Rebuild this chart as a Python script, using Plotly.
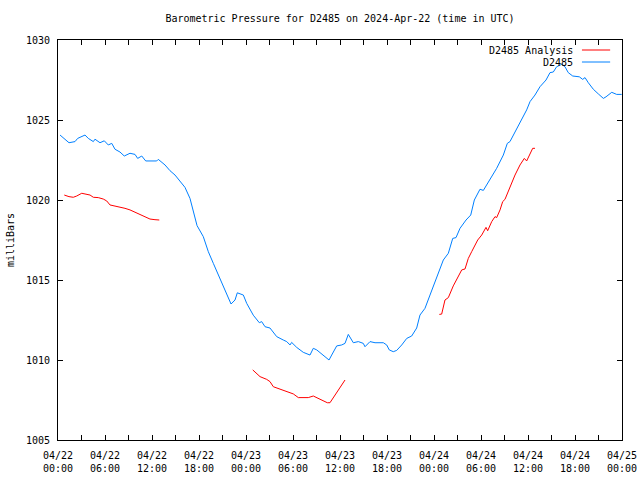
import pandas as pd
import plotly.graph_objects as go

BASE = pd.Timestamp("2024-04-22 00:00")

# hours since 2024-04-22 00:00 UTC, pressure in mb
blue_h = [0.26, 0.89, 1.40, 2.17, 2.51, 3.45, 3.87, 4.51, 4.72, 5.36, 5.91, 6.42, 6.86, 7.28, 7.91,
          8.46, 9.19, 9.83, 10.17, 10.69, 11.20, 12.60, 12.80, 13.66, 14.30, 14.94, 15.57, 16.21,
          16.85, 17.28, 17.75, 18.55, 18.77, 19.19, 19.83, 20.68, 21.32, 22.09, 22.60, 22.89, 23.66,
          24.09, 24.93, 25.70, 26.00, 26.43, 27.06, 27.92, 28.76, 29.20, 29.62, 29.83, 30.47, 31.31,
          32.17, 32.59, 33.03, 33.45, 34.09, 34.60, 34.94, 35.58, 36.22, 36.64, 37.06, 37.70, 38.34,
          38.97, 39.19, 39.83, 40.47, 41.53, 41.96, 42.29, 42.80, 43.24, 43.88, 44.52, 45.15, 45.79,
          46.21, 46.85, 47.49, 48.34, 49.19, 49.83, 50.39, 50.81, 51.32, 52.09, 52.69, 53.15, 53.87,
          54.30, 55.15, 56.00, 56.85, 57.36, 57.70, 58.56, 59.20, 59.83, 60.26, 60.89, 61.53, 62.30,
          62.81, 63.23, 63.66, 64.30, 64.72, 65.14, 65.71, 66.55, 66.98, 67.28, 67.70, 68.34, 68.98,
          69.62, 69.96, 70.69, 71.32, 71.96]
blue_p = [1024.06, 1023.80, 1023.58, 1023.65, 1023.85, 1024.06, 1023.85, 1023.65, 1023.80, 1023.58,
          1023.70, 1023.44, 1023.54, 1023.17, 1023.00, 1022.75, 1022.92, 1022.85, 1022.60, 1022.75,
          1022.44, 1022.44, 1022.54, 1022.19, 1021.83, 1021.56, 1021.20, 1020.79, 1020.10, 1019.20,
          1018.40, 1017.71, 1017.40, 1016.77, 1016.04, 1015.10, 1014.38, 1013.50, 1013.75, 1014.20,
          1014.06, 1013.54, 1012.80, 1012.33, 1012.40, 1012.08, 1012.00, 1011.46, 1011.25, 1011.15,
          1010.94, 1011.10, 1010.79, 1010.48, 1010.31, 1010.73, 1010.63, 1010.46, 1010.17, 1010.00,
          1010.31, 1010.88, 1010.94, 1011.04, 1011.60, 1011.08, 1011.15, 1011.04, 1010.83, 1011.15,
          1011.08, 1011.08, 1010.94, 1010.63, 1010.52, 1010.60, 1010.94, 1011.35, 1011.50, 1012.00,
          1012.81, 1013.23, 1014.06, 1015.10, 1016.25, 1016.67, 1017.60, 1017.65, 1018.23, 1018.75,
          1019.06, 1020.00, 1020.67, 1020.60, 1021.25, 1021.98, 1022.81, 1023.54, 1023.65, 1024.48,
          1025.10, 1025.63, 1026.15, 1026.56, 1027.08, 1027.50, 1027.96, 1028.00, 1028.33, 1028.48,
          1028.33, 1027.96, 1027.75, 1027.70, 1027.54, 1027.65, 1027.33, 1026.92, 1026.63, 1026.35,
          1026.45, 1026.73, 1026.60, 1026.60]

red1_h = [0.80, 1.40, 1.95, 2.39, 3.03, 3.66, 4.09, 4.51, 5.14, 5.78, 6.22, 6.64, 7.28, 7.91, 8.55,
          9.19, 9.83, 10.47, 11.11, 11.74, 12.38, 12.93]
red1_p = [1020.31, 1020.21, 1020.17, 1020.25, 1020.42, 1020.35, 1020.31, 1020.17, 1020.15, 1020.06,
          1019.94, 1019.69, 1019.63, 1019.54, 1019.48, 1019.38, 1019.23, 1019.06, 1018.92, 1018.81,
          1018.77, 1018.75]
red2_h = [24.86, 25.37, 25.79, 26.64, 27.06, 27.49, 28.12, 28.76, 29.62, 30.04, 30.68, 31.95, 32.59,
          33.23, 33.87, 34.38, 34.72, 34.94, 35.58, 36.22, 36.64]
red2_p = [1009.38, 1009.17, 1008.96, 1008.79, 1008.65, 1008.33, 1008.23, 1008.08, 1007.96, 1007.88,
          1007.65, 1007.65, 1007.75, 1007.60, 1007.50, 1007.33, 1007.33, 1007.50, 1007.96, 1008.44,
          1008.75]
red3_h = [48.68, 48.98, 49.40, 49.83, 50.46, 51.10, 51.54, 51.96, 52.38, 52.81, 53.58, 54.09, 54.64,
          54.85, 55.37, 55.79, 56.00, 56.43, 56.77, 57.06, 57.70, 58.34, 58.98, 59.53, 59.83, 60.26,
          60.60, 60.89]
red3_p = [1012.85, 1012.87, 1013.75, 1013.90, 1014.63, 1015.21, 1015.63, 1015.69, 1016.35, 1016.77,
          1017.50, 1017.81, 1018.29, 1018.08, 1018.65, 1018.96, 1018.90, 1019.38, 1019.90, 1020.04,
          1020.83, 1021.56, 1022.19, 1022.60, 1022.44, 1022.92, 1023.23, 1023.23]

tick_hours = list(range(0, 73, 6))
tick_text = ["04/22<br>00:00", "04/22<br>06:00", "04/22<br>12:00", "04/22<br>18:00",
             "04/23<br>00:00", "04/23<br>06:00", "04/23<br>12:00", "04/23<br>18:00",
             "04/24<br>00:00", "04/24<br>06:00", "04/24<br>12:00", "04/24<br>18:00",
             "04/25<br>00:00"]
y_ticks = [1005, 1010, 1015, 1020, 1025, 1030]

def to_t(hours):
    return [BASE + pd.Timedelta(hours=h) for h in hours]

red_t = to_t(red1_h) + [None] + to_t(red2_h) + [None] + to_t(red3_h)
red_p = red1_p + [None] + red2_p + [None] + red3_p

RED = "#ff0000"
BLUE = "#0080ff"
FONT = "DejaVu Sans Mono"

fig = go.Figure()
fig.add_trace(go.Scatter(x=red_t, y=red_p, mode="lines", name="D2485 Analysis",
                         line=dict(color=RED, width=1), connectgaps=False))
fig.add_trace(go.Scatter(x=to_t(blue_h), y=blue_p, mode="lines", name="D2485",
                         line=dict(color=BLUE, width=1)))

fig.update_layout(
    width=640, height=480,
    margin=dict(l=58, r=18, t=40, b=40),
    paper_bgcolor="white", plot_bgcolor="white",
    font=dict(family=FONT, size=10, color="black"),
    showlegend=False,
    title=dict(text="Barometric Pressure for D2485 on 2024-Apr-22 (time in UTC)",
               xref="paper", x=0.5, xanchor="center", y=0.962, yanchor="middle",
               font=dict(family=FONT, size=10, color="black")),
)
fig.update_xaxes(
    range=[BASE, BASE + pd.Timedelta(hours=72)],
    tickvals=to_t(tick_hours), ticktext=tick_text,
    ticks="inside", ticklen=5, tickcolor="black", tickwidth=1,
    minor=dict(dtick=3 * 3600 * 1000, ticks="inside", ticklen=5, tickcolor="black"),
    showline=True, linecolor="black", linewidth=1, mirror="allticks",
    showgrid=False, zeroline=False, tickfont=dict(family=FONT, size=10),
    ticklabelstandoff=6, automargin=False,
)
fig.update_yaxes(
    range=[1005, 1030], tickvals=y_ticks,
    ticks="inside", ticklen=5, tickcolor="black", tickwidth=1,
    showline=True, linecolor="black", linewidth=1, mirror="allticks",
    showgrid=False, zeroline=False, tickfont=dict(family=FONT, size=10),
    ticklabelstandoff=5, automargin=False,
)

# y-axis title
fig.add_annotation(x=-0.085, y=0.5, xref="paper", yref="paper", text="milliBars",
                   showarrow=False, textangle=-90, xanchor="center", yanchor="middle",
                   font=dict(family=FONT, size=10, color="black"))

# legend (text right-aligned, sample line on the right, as in gnuplot)
legend_items = [("D2485 Analysis", RED, 0.975), ("D2485", BLUE, 0.945)]
for label, color, yp in legend_items:
    fig.add_annotation(x=0.917, y=yp, xref="paper", yref="paper", text=label,
                       showarrow=False, xanchor="right", yanchor="middle",
                       font=dict(family=FONT, size=10, color="black"))
    fig.add_shape(type="line", xref="paper", yref="paper", x0=0.929, x1=0.979, y0=yp, y1=yp,
                  line=dict(color=color, width=1))

fig.write_html("out.html", config={"displayModeBar": False, "staticPlot": True},
               post_script="document.body.style.margin='0';document.body.style.overflow='hidden';")
